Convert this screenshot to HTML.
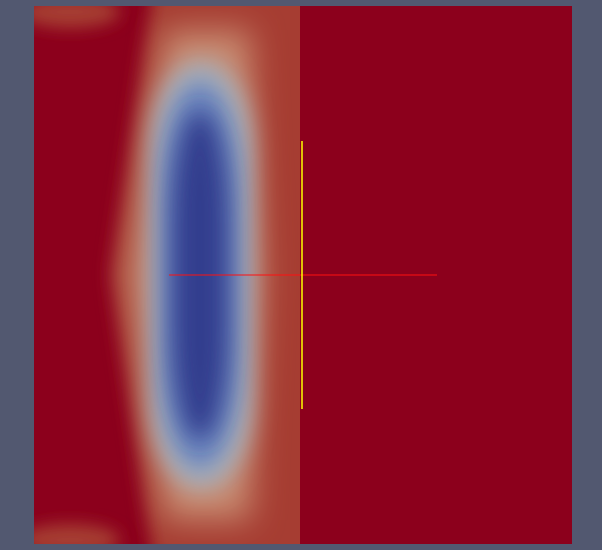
<!DOCTYPE html>
<html><head><meta charset="utf-8"><style>html,body{margin:0;padding:0;background:#525870;}svg{display:block}</style></head>
<body>
<svg width="602" height="550">
<defs>
<filter id="b8" x="-50%" y="-50%" width="200%" height="200%"><feGaussianBlur stdDeviation="8"/></filter>
<filter id="b12" x="-50%" y="-50%" width="200%" height="200%"><feGaussianBlur stdDeviation="12"/></filter>
<filter id="b16" x="-50%" y="-50%" width="200%" height="200%"><feGaussianBlur stdDeviation="16"/></filter>
<clipPath id="c"><rect x="34" y="6" width="266" height="538"/></clipPath>
</defs>
<rect x="0" y="0" width="602" height="550" fill="#525870"/>
<rect x="34" y="6" width="538" height="538" fill="#8c001c"/>
<g clip-path="url(#c)">
<polygon points="155,-20 320,-20 320,570 155,570 112,275" fill="#a63e30" filter="url(#b8)"/>
<ellipse cx="70" cy="12" rx="50" ry="16" fill="#a63e30" filter="url(#b8)"/>
<ellipse cx="70" cy="540" rx="50" ry="16" fill="#a63e30" filter="url(#b8)"/>
<polygon points="165,30 250,30 262,275 250,520 165,520 128,275" fill="#c78a70" filter="url(#b16)"/>
<rect x="150" y="60" width="102" height="430" rx="50" ry="90" fill="#aab0b8" filter="url(#b12)"/>
<rect x="160" y="80" width="80" height="390" rx="40" ry="110" fill="#6a85bf" filter="url(#b12)"/>
<rect x="172" y="110" width="56" height="330" rx="28" ry="110" fill="#303c8e" filter="url(#b12)"/>
</g>
<line x1="169" y1="275" x2="437" y2="275" stroke="#ff1010" stroke-width="1"/>
<line x1="302" y1="141" x2="302" y2="409" stroke="#ffff00" stroke-width="1.5"/>
</svg>
</body></html>
